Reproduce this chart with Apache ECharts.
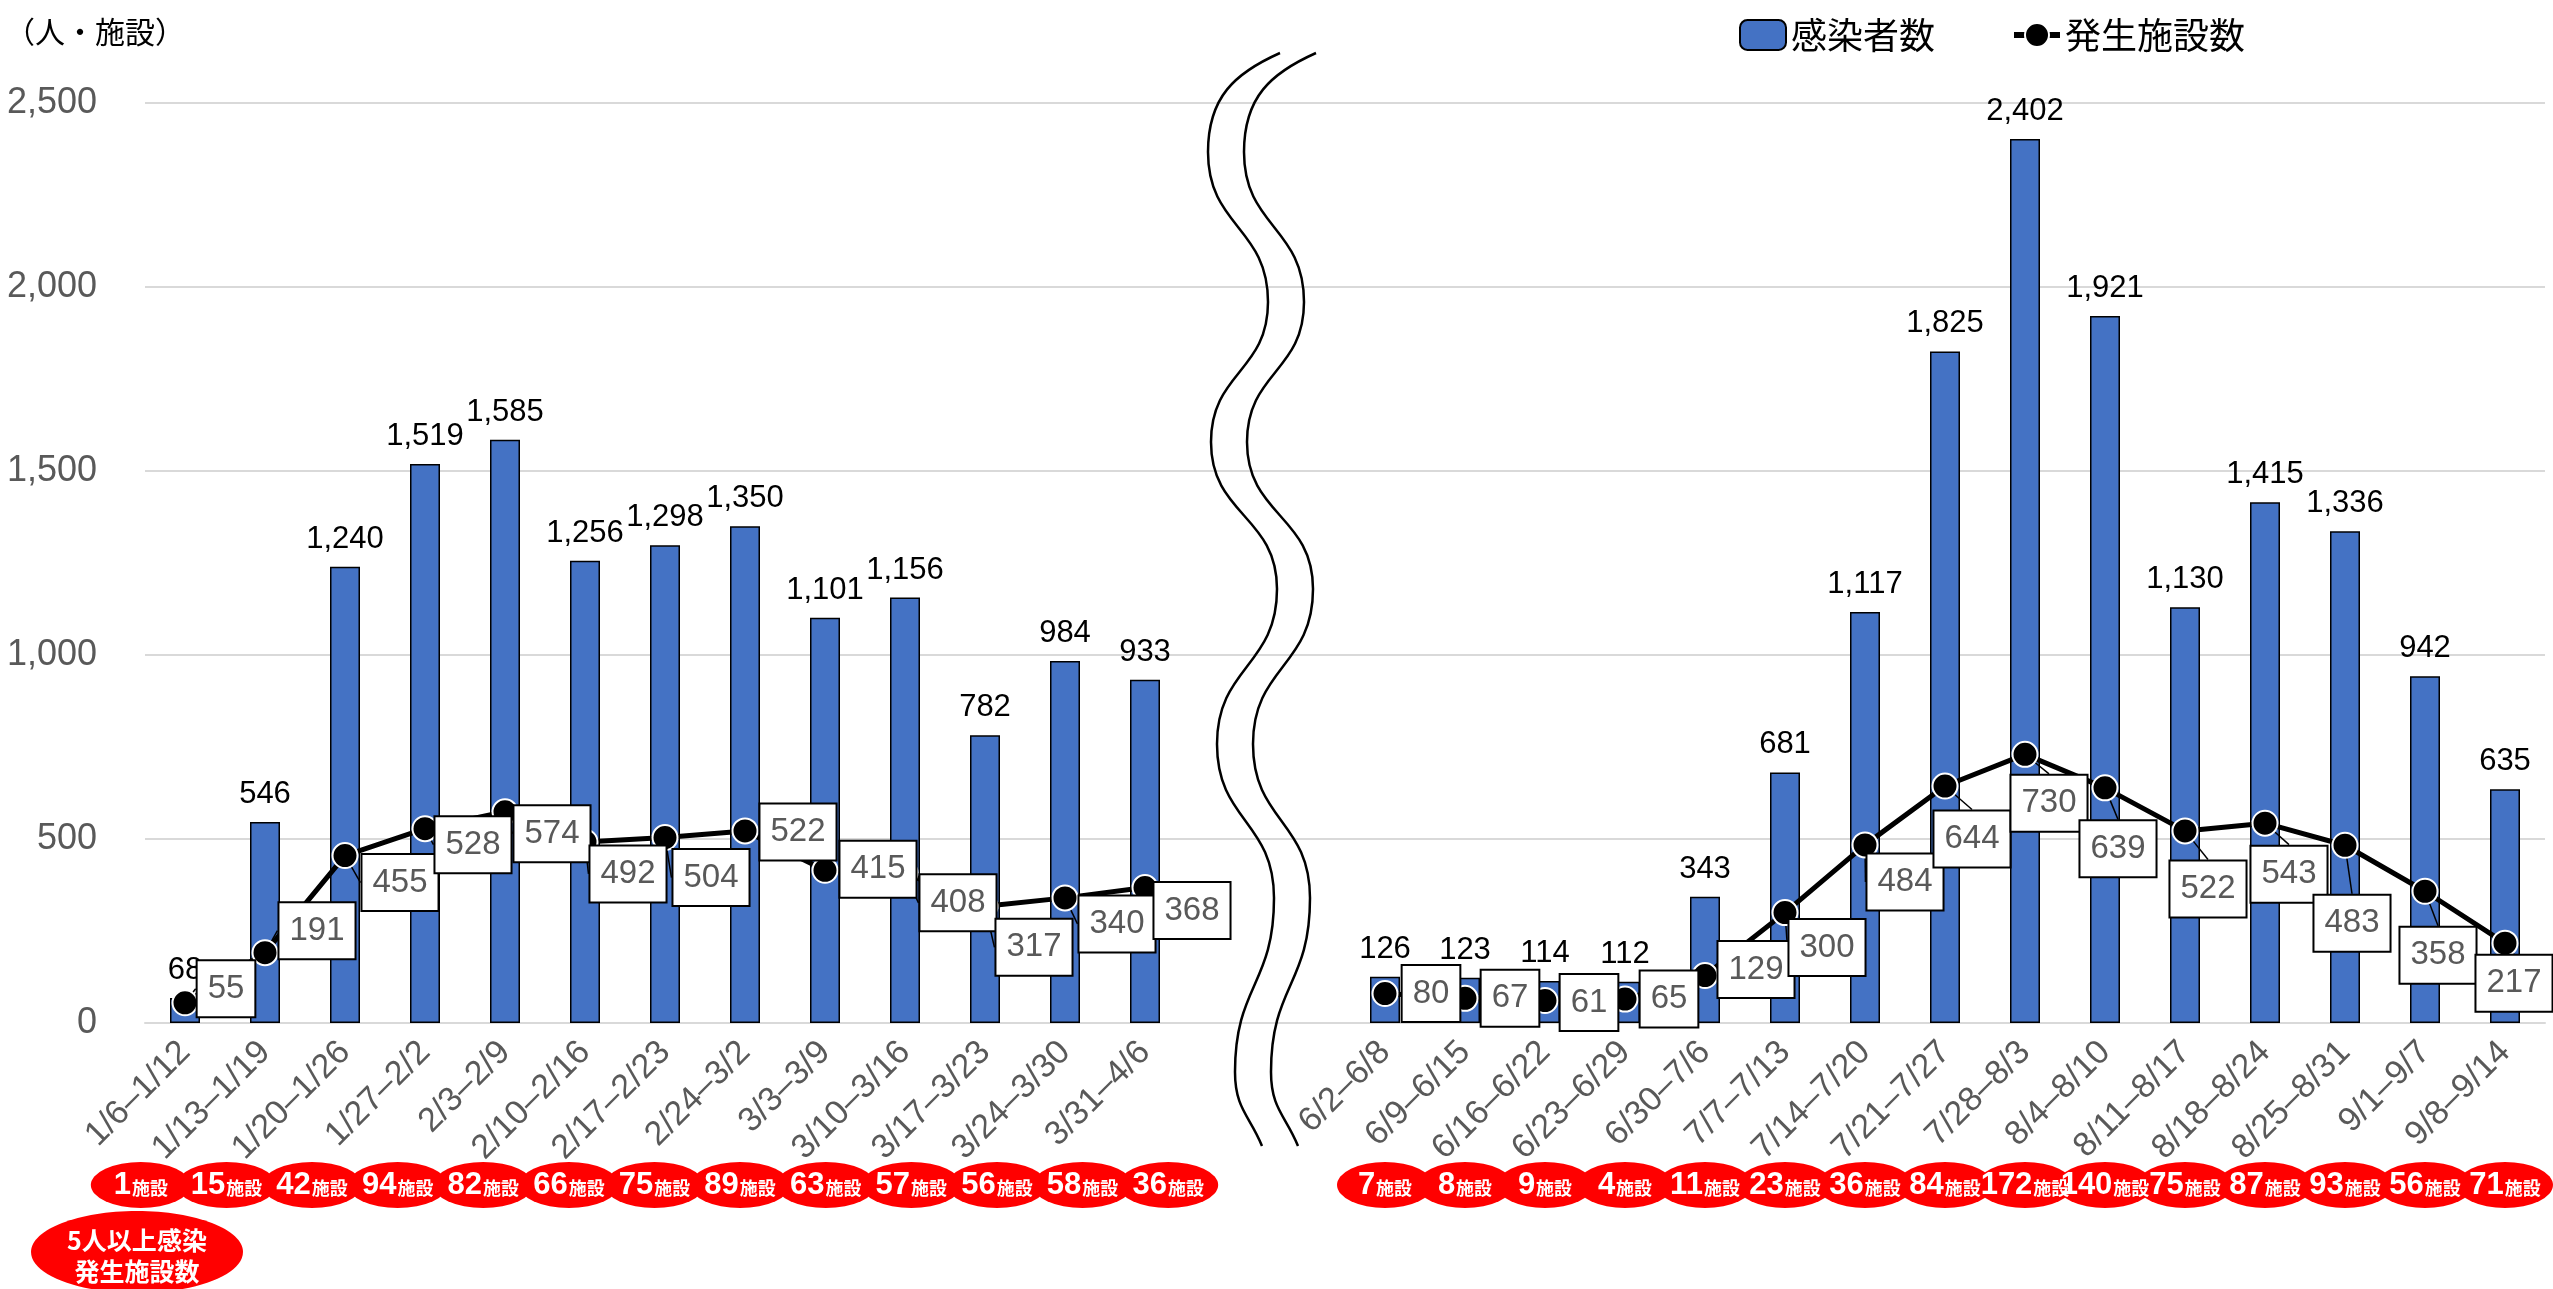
<!DOCTYPE html>
<html>
<head>
<meta charset="utf-8">
<script src="https://cdn.jsdelivr.net/npm/echarts@6/dist/echarts.min.js"></script>
<style>html,body{margin:0;padding:0;background:#fff}#c{width:2553px;height:1289px}</style>
</head>
<body>
<div id="c"></div>
<script>
// ---------- data ----------
const categoriesLeft = ['1/6–1/12','1/13–1/19','1/20–1/26','1/27–2/2','2/3–2/9','2/10–2/16','2/17–2/23','2/24–3/2','3/3–3/9','3/10–3/16','3/17–3/23','3/24–3/30','3/31–4/6'];
const categoriesRight = ['6/2–6/8','6/9–6/15','6/16–6/22','6/23–6/29','6/30–7/6','7/7–7/13','7/14–7/20','7/21–7/27','7/28–8/3','8/4–8/10','8/11–8/17','8/18–8/24','8/25–8/31','9/1–9/7','9/8–9/14'];
const infectedLeft = [68,546,1240,1519,1585,1256,1298,1350,1101,1156,782,984,933];
const infectedRight = [126,123,114,112,343,681,1117,1825,2402,1921,1130,1415,1336,942,635];
const facilitiesLeft = [55,191,455,528,574,492,504,522,415,408,317,340,368];
const facilitiesRight = [80,67,61,65,129,300,484,644,730,639,522,543,483,358,217];
const clustersLeft = [1,15,42,94,82,66,75,89,63,57,56,58,36];
const clustersRight = [7,8,9,4,11,23,36,84,172,140,75,87,93,56,71];
const gapSlots = 2;
const yMax = 2500, yInterval = 500;
const seriesNames = ['感染者数','発生施設数'];
const unitLabel = '（人・施設）';
const clusterUnit = '施設';
const clusterTitle = ['5人以上感染','発生施設数'];

// ---------- layout (label offsets in px, not data) ----------
const labelOffsetsLeft = [[41,-14],[52,-22],[55,27],[48,16],[47,22],[43,32],[46,40],[53,1],[53,-1],[53,30],[49,41],[52,26],[47,23]];
const labelOffsetsRight = [[46,0],[45,0],[44,2],[44,0],[51,-6],[42,35],[40,37],[27,53],[24,49],[13,61],[23,58],[24,51],[7,78],[13,64],[9,40]];

const gap = new Array(gapSlots).fill(null);
const categories = categoriesLeft.concat(gap.map(()=>''), categoriesRight);
const infectedAll = infectedLeft.concat(gap, infectedRight);
const facilitiesAll = facilitiesLeft.concat(gap, facilitiesRight);
const labelOffsets = labelOffsetsLeft.concat(gap, labelOffsetsRight);

const NUM = '"Liberation Sans", Arial, sans-serif';
const NARROW = '"Liberation Sans Narrow", "Liberation Sans", sans-serif';
const CJK = '"Noto Sans CJK JP", "Noto Sans", sans-serif';

// wavy break lines built from cubic bezier segments
const wavePts = [[1280,53],[1208,152],[1268,302],[1211,442],[1277,589],[1217,744],[1274,898],[1235,1072],[1262,1146]];
function waveSegments(dx){
  const segs = [];
  for (let i=1;i<wavePts.length;i++){
    const [x0,y0]=wavePts[i-1],[x1,y1]=wavePts[i];
    const h=(y1-y0)*0.5;
    let c1=[x0,y0+h], c2=[x1,y1-h];
    if (i===1){ c1=[x0-45,y0+20]; c2=[x1,y1-55]; }
    if (i===wavePts.length-1){ c2=[x1-12,y1-30]; }
    segs.push({type:'bezierCurve',z:10,silent:true,
      shape:{x1:x0+dx,y1:y0,cpx1:c1[0]+dx,cpy1:c1[1],cpx2:c2[0]+dx,cpy2:c2[1],x2:x1+dx,y2:y1},
      style:{fill:null,stroke:'#000',lineWidth:2.5}});
  }
  return segs;
}

const chart = echarts.init(document.getElementById('c'), null, {renderer:'canvas'});
const clusterLabel = {
  show:true, position:'inside',
  formatter:(p)=>'{n|'+p.value[2]+'}{u|'+clusterUnit+'}',
  rich:{
    n:{fontFamily:NARROW,fontSize:31,fontWeight:'bold',color:'#fff'},
    u:{fontFamily:CJK,fontSize:18,fontWeight:'bold',color:'#fff',padding:[6,0,0,1]}
  }
};
chart.setOption({
  animation:false,
  title:{text:unitLabel,left:0,top:12,textStyle:{fontFamily:CJK,fontSize:30,fontWeight:'normal',color:'#000'}},
  legend:{
    data:seriesNames, left:1734, top:12, itemWidth:46, itemHeight:30, itemGap:76,
    lineStyle:{width:6},
    textStyle:{fontFamily:CJK,fontSize:36,color:'#000'}
  },
  grid:[
    {left:145,right:8,top:103,bottom:266},
    {left:98,width:1113,top:1165,height:40},
    {left:1345,width:1200,top:1165,height:40}
  ],
  xAxis:[
    {type:'category',gridIndex:0,data:categories,boundaryGap:true,
     axisLine:{show:true,lineStyle:{color:'#d9d9d9',width:2}},axisTick:{show:false},
     axisLabel:{interval:0,rotate:45,margin:24,fontFamily:NUM,fontSize:34,color:'#595959'}},
    {type:'category',gridIndex:1,data:categoriesLeft,show:false},
    {type:'category',gridIndex:2,data:categoriesRight,show:false}
  ],
  yAxis:[
    {type:'value',gridIndex:0,min:0,max:yMax,interval:yInterval,
     axisLine:{show:false},axisTick:{show:false},
     splitLine:{lineStyle:{color:'#d9d9d9',width:2}},
     axisLabel:{margin:48,fontFamily:NUM,fontSize:36,color:'#595959',formatter:(v)=>v.toLocaleString('en-US')}},
    {type:'value',gridIndex:1,min:-1,max:1,show:false},
    {type:'value',gridIndex:2,min:-1,max:1,show:false}
  ],
  series:[
    {name:seriesNames[0],type:'bar',xAxisIndex:0,yAxisIndex:0,data:infectedAll,barWidth:30,
     itemStyle:{color:'#4472C4',borderColor:'#000',borderWidth:1.5},
     label:{show:true,position:'top',distance:12,fontFamily:NUM,fontSize:31,color:'#000',
            formatter:(p)=>p.value==null?'':p.value.toLocaleString('en-US')},
     z:2},
    {name:seriesNames[1],type:'line',xAxisIndex:0,yAxisIndex:0,data:facilitiesAll,connectNulls:false,
     symbol:'circle',symbolSize:25,
     lineStyle:{color:'#000',width:5},
     itemStyle:{color:'#000',borderColor:'#fff',borderWidth:2},
     label:{show:true,position:'inside',fontFamily:NARROW,fontSize:33,lineHeight:35,color:'#595959',
            backgroundColor:'#fff',borderColor:'#000',borderWidth:2,padding:[10,10]},
     labelLine:{show:true,lineStyle:{color:'#000',width:1.5}},
     labelLayout:(p)=>{const o=labelOffsets[p.dataIndex];return o?{dx:o[0],dy:o[1]}:{};},
     z:5},
    {type:'scatter',xAxisIndex:1,yAxisIndex:1,symbol:'circle',symbolSize:[100,46],
     data:clustersLeft.map((v,i)=>[i,0,v]),itemStyle:{color:'#FF0000',opacity:1},label:clusterLabel,silent:true},
    {type:'scatter',xAxisIndex:2,yAxisIndex:2,symbol:'circle',symbolSize:[96,46],
     data:clustersRight.map((v,i)=>[i,0,v]),itemStyle:{color:'#FF0000',opacity:1},label:clusterLabel,silent:true}
  ],
  graphic:[].concat(waveSegments(0), waveSegments(36), [
    {type:'ellipse',shape:{cx:137,cy:1252,rx:106,ry:41},style:{fill:'#FF0000'},z:10},
    {type:'text',x:137,y:1240,style:{text:clusterTitle[0],fontFamily:CJK,fontSize:25,fontWeight:'bold',fill:'#fff',align:'center',verticalAlign:'middle'},z:11},
    {type:'text',x:137,y:1271,style:{text:clusterTitle[1],fontFamily:CJK,fontSize:25,fontWeight:'bold',fill:'#fff',align:'center',verticalAlign:'middle'},z:11}
  ])
});
</script>
</body>
</html>
